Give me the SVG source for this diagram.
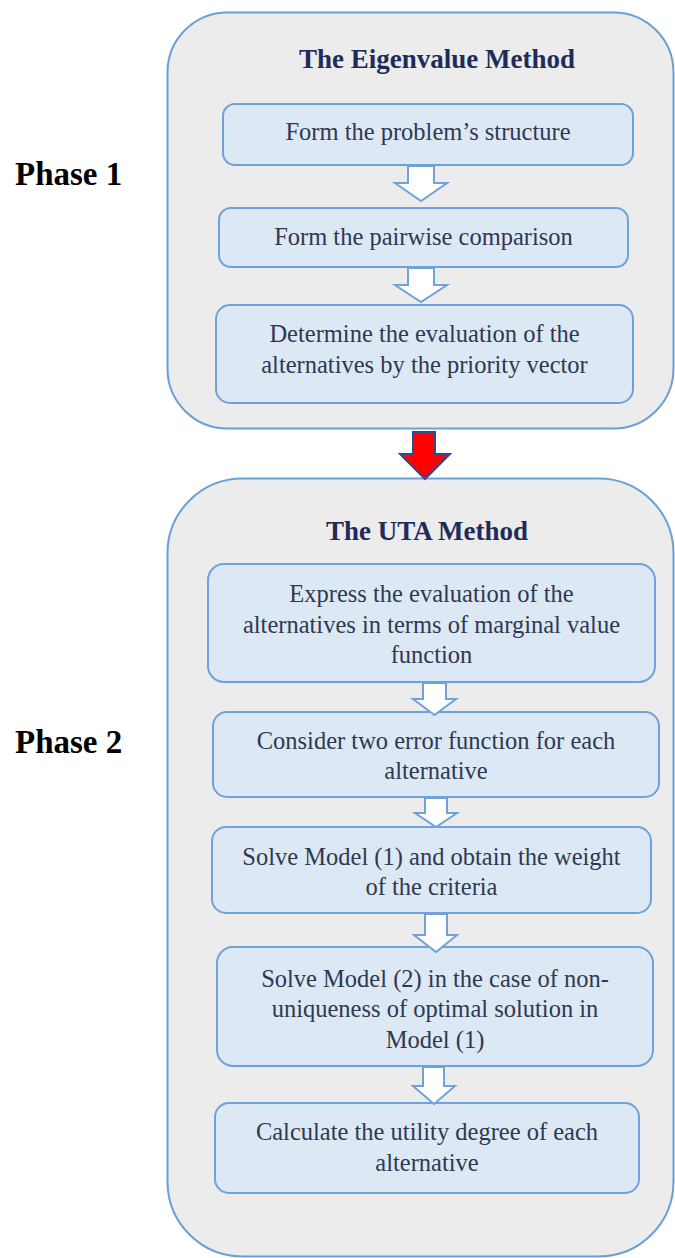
<svg xmlns="http://www.w3.org/2000/svg" width="675" height="1258" viewBox="0 0 675 1258">
  <style>
    .panel { fill: #ececec; stroke: #6a9fd8; stroke-width: 2; }
    .step { fill: #dde8f5; stroke: #6fa2da; stroke-width: 2; }
    .title { font-family: "Liberation Serif", serif; font-weight: bold; font-size: 27px; fill: #1f2b58; text-anchor: middle; }
    .label { font-family: "Liberation Serif", serif; font-weight: normal; font-size: 24.5px; fill: #2e3852; text-anchor: middle; }
    .phase { font-family: "Liberation Serif", serif; font-weight: bold; font-size: 33px; fill: #000; }
    .flow { fill: #ffffff; stroke: #6fa2da; stroke-width: 2; stroke-linejoin: miter; }
    .link { fill: #ff0000; stroke: #2f4b8f; stroke-width: 2; }
  </style>
  <rect width="675" height="1258" fill="#ffffff"/>

  <!-- phase labels -->
  <text class="phase" x="15" y="185">Phase 1</text>
  <text class="phase" x="15" y="753">Phase 2</text>

  <!-- phase 1 panel -->
  <g id="eigenvalue-method">
    <rect class="panel" x="167.5" y="12.5" width="506" height="416" rx="60"/>
    <text class="title" x="437" y="68">The Eigenvalue Method</text>
  </g>
  <g id="form-structure">
    <rect class="step" x="223" y="104" width="410" height="61" rx="12"/>
    <text class="label" x="428" y="140">Form the problem’s structure</text>
  </g>
  <g id="pairwise-comparison">
    <rect class="step" x="219" y="208" width="409" height="59" rx="12"/>
    <text class="label" x="423.5" y="245">Form the pairwise comparison</text>
  </g>
  <g id="priority-vector">
    <rect class="step" x="216" y="305" width="417" height="98" rx="14"/>
    <text class="label" x="424.5" y="342">Determine the evaluation of the</text>
    <text class="label" x="424.5" y="373">alternatives by the priority vector</text>
  </g>

  <!-- phase 2 panel -->
  <g id="uta-method">
    <rect class="panel" x="167.5" y="478.5" width="506" height="778" rx="75"/>
    <text class="title" x="427" y="540">The UTA Method</text>
  </g>
  <g id="marginal-value">
    <rect class="step" x="208" y="564" width="447" height="118" rx="16"/>
    <text class="label" x="431.5" y="602">Express the evaluation of the</text>
    <text class="label" x="431.5" y="633">alternatives in terms of marginal value</text>
    <text class="label" x="431.5" y="663">function</text>
  </g>
  <g id="error-functions">
    <rect class="step" x="213" y="712" width="446" height="85" rx="14"/>
    <text class="label" x="436" y="749">Consider two error function for each</text>
    <text class="label" x="436" y="779">alternative</text>
  </g>
  <g id="solve-model-1">
    <rect class="step" x="212" y="827" width="439" height="86" rx="14"/>
    <text class="label" x="431.5" y="865">Solve Model (1) and obtain the weight</text>
    <text class="label" x="431.5" y="895">of the criteria</text>
  </g>
  <g id="solve-model-2">
    <rect class="step" x="217" y="947" width="436" height="119" rx="16"/>
    <text class="label" x="435" y="987">Solve Model (2) in the case of non-</text>
    <text class="label" x="435" y="1017">uniqueness of optimal solution in</text>
    <text class="label" x="435" y="1048">Model (1)</text>
  </g>
  <g id="utility-degree">
    <rect class="step" x="215" y="1103" width="424" height="90" rx="14"/>
    <text class="label" x="427" y="1140">Calculate the utility degree of each</text>
    <text class="label" x="427" y="1171">alternative</text>
  </g>

  <!-- block arrows between steps -->
  <g id="connectors">
    <path class="flow" d="M408,166 L434,166 L434,183 L447,183 L421,201 L395,183 L408,183 Z"/>
    <path class="flow" d="M408,268 L434,268 L434,285 L447,285 L421,302 L395,285 L408,285 Z"/>
    <path class="link" d="M413,432 L435,432 L435,454 L450,454 L425,479 L400,454 L413,454 Z"/>
    <path class="flow" d="M423,683 L446,683 L446,699 L456,699 L434.5,715 L413,699 L423,699 Z"/>
    <path class="flow" d="M425,798 L447,798 L447,813 L457,813 L436,827 L415,813 L425,813 Z"/>
    <path class="flow" d="M425,914 L447,914 L447,935 L457,935 L436,952 L414,935 L425,935 Z"/>
    <path class="flow" d="M423,1067 L444,1067 L444,1086 L455,1086 L434,1104 L413,1086 L423,1086 Z"/>
  </g>
</svg>
